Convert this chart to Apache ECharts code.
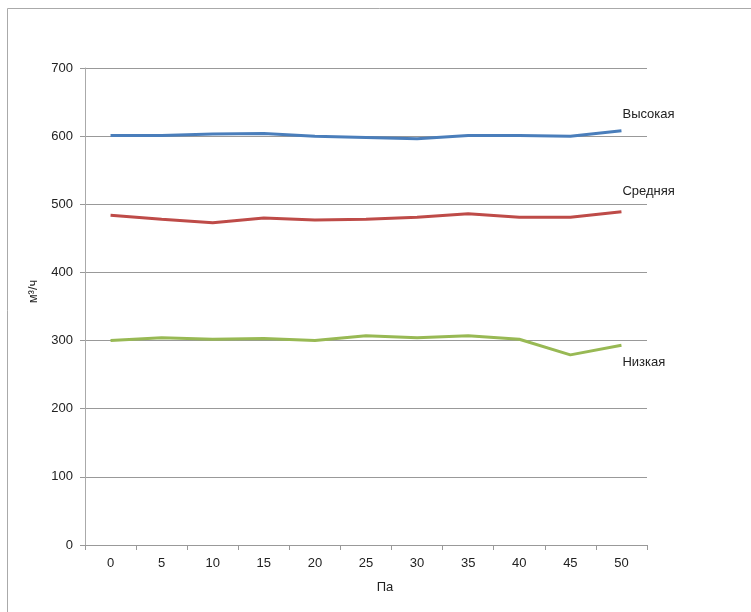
<!DOCTYPE html>
<html>
<head>
<meta charset="utf-8">
<script src="https://cdn.jsdelivr.net/npm/echarts@6/dist/echarts.min.js"></script>
<style>
  html, body { margin: 0; padding: 0; background: #fff; }
  #chart { width: 751px; height: 612px; }
</style>
</head>
<body>
<div id="chart"></div>
<script>
// давление, Па
var pressure = ['0', '5', '10', '15', '20', '25', '30', '35', '40', '45', '50'];

// расход, м³/ч
var high   = [601, 601, 603, 604, 600, 598, 596, 601, 601, 600, 608];
var medium = [484, 478, 473, 480, 477, 478, 481, 486, 481, 481, 489];
var low    = [300, 304, 302, 303, 300, 307, 304, 307, 302, 279, 293];

var yTicks = { min: 0, max: 700, interval: 100 };

var myChart = echarts.init(document.getElementById('chart'));

function line(name, data, color, dy) {
  return {
    name: name,
    type: 'line',
    data: data,
    symbol: 'none',
    lineStyle: { color: color, width: 3 },
    itemStyle: { color: color },
    endLabel: {
      show: true,
      formatter: name,
      distance: 1,
      offset: [0, dy],
      color: '#222',
      fontSize: 13,
      fontFamily: 'Liberation Sans, Arial, sans-serif'
    },
    animation: false
  };
}

var option = {
  animation: false,
  grid: { left: 85, right: 104, top: 68, bottom: 67 },
  graphic: [{
    type: 'rect',
    shape: { x: 7.5, y: 8.5, width: 800, height: 700 },
    style: { fill: 'none', stroke: '#aaa', lineWidth: 1 },
    silent: true
  }],
  xAxis: {
    type: 'category',
    data: pressure,
    boundaryGap: true,
    name: 'Па',
    nameLocation: 'middle',
    nameGap: 36,
    nameTextStyle: { color: '#222', fontSize: 13, fontFamily: 'Liberation Sans, Arial, sans-serif', padding: [0, 0, 0, 38] },
    axisLine: { lineStyle: { color: '#999' } },
    axisTick: { show: true, length: 5, alignWithLabel: false, lineStyle: { color: '#999' } },
    axisLabel: { color: '#222', fontSize: 13, margin: 12, fontFamily: 'Liberation Sans, Arial, sans-serif' },
    splitLine: { show: false }
  },
  yAxis: {
    type: 'value',
    min: yTicks.min,
    max: yTicks.max,
    interval: yTicks.interval,
    name: 'м³/ч',
    nameLocation: 'middle',
    nameGap: 36,
    nameTextStyle: { color: '#222', fontSize: 13, fontFamily: 'Liberation Sans, Arial, sans-serif', padding: [0, 0, 0, 30] },
    axisLine: { show: true, lineStyle: { color: '#aaa' } },
    axisTick: { show: true, length: 5, lineStyle: { color: '#999' } },
    axisLabel: { color: '#222', fontSize: 13, margin: 12, fontFamily: 'Liberation Sans, Arial, sans-serif' },
    splitLine: { show: true, lineStyle: { color: '#999', width: 1 } }
  },
  series: [
    line('Высокая', high, '#4a7ebb', -16),
    line('Средняя', medium, '#be4b48', -20),
    line('Низкая', low, '#98b954', 17)
  ]
};

myChart.setOption(option);
</script>
</body>
</html>
